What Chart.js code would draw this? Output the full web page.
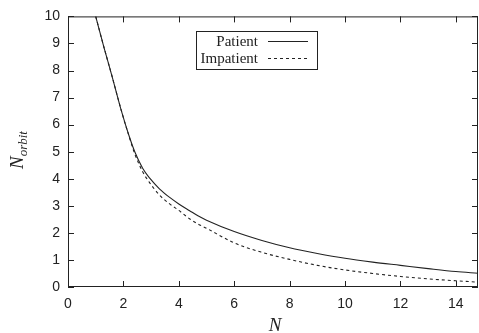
<!DOCTYPE html>
<html>
<head>
<meta charset="utf-8">
<script src="https://cdn.jsdelivr.net/npm/chart.js@4.4.2/dist/chart.umd.min.js"></script>
<style>
  html, body { margin: 0; padding: 0; background: #fff; }
  #wrap { width: 479px; height: 333px; }
</style>
</head>
<body>
<div id="wrap"><canvas id="orbitChart" width="479" height="333"></canvas></div>
<script>
// values
const nValues = [1, 1.3, 1.6, 1.93, 2.2, 2.41, 2.7, 2.95, 3.3, 3.67, 4, 4.39, 4.69, 5, 6, 7, 8, 9, 10, 11, 12, 13, 14, 14.8];
const patientValues = [10, 8.85, 7.75, 6.5, 5.6, 5.0, 4.38, 4.02, 3.63, 3.31, 3.07, 2.82, 2.63, 2.47, 2.05, 1.72, 1.45, 1.24, 1.06, 0.92, 0.80, 0.68, 0.57, 0.51];
const impatientValues = [10, 8.85, 7.75, 6.5, 5.58, 4.92, 4.25, 3.85, 3.4, 3.07, 2.83, 2.52, 2.33, 2.17, 1.63, 1.28, 1.02, 0.80, 0.63, 0.50, 0.39, 0.30, 0.23, 0.18];
const seriesNames = ["Patient", "Impatient"];
const xTicks = [0, 2, 4, 6, 8, 10, 12, 14];
const yTicks = [0, 1, 2, 3, 4, 5, 6, 7, 8, 9, 10];

const ink = "#222";

function toPoints(ys) {
    return nValues.map((x, i) => ({ x: x, y: ys[i] }));
}

// frame, inward ticks on all sides, axis titles and the boxed legend
const framePlugin = {
    id: "frame",
    afterDatasetsDraw(chart) {
        const { ctx, chartArea: a, scales } = chart;
        ctx.save();
        ctx.strokeStyle = ink;
        ctx.lineWidth = 1;
        ctx.strokeRect(a.left + 0.5, a.top + 0.5, a.right - a.left - 1, a.bottom - a.top - 1);

        const tick = 6;
        ctx.beginPath();
        xTicks.forEach(v => {
            const px = Math.round(scales.x.getPixelForValue(v)) + 0.5;
            ctx.moveTo(px, a.bottom); ctx.lineTo(px, a.bottom - tick);
            ctx.moveTo(px, a.top); ctx.lineTo(px, a.top + tick);
        });
        yTicks.forEach(v => {
            const py = Math.round(scales.y.getPixelForValue(v)) + 0.5;
            ctx.moveTo(a.left, py); ctx.lineTo(a.left + tick, py);
            ctx.moveTo(a.right, py); ctx.lineTo(a.right - tick, py);
        });
        ctx.stroke();

        // legend box
        const box = { x: 196.5, y: 31.5, w: 121, h: 38 };
        ctx.strokeRect(box.x, box.y, box.w, box.h);
        ctx.font = "15px 'Liberation Serif', serif";
        ctx.fillStyle = ink;
        ctx.textAlign = "right";
        ctx.textBaseline = "alphabetic";
        const rows = [46, 63];
        seriesNames.forEach((name, i) => {
            ctx.fillText(name, 258, rows[i]);
            ctx.beginPath();
            ctx.setLineDash(i === 0 ? [] : [3, 3]);
            ctx.moveTo(268, rows[i] - 4.5);
            ctx.lineTo(308, rows[i] - 4.5);
            ctx.stroke();
        });
        ctx.setLineDash([]);

        // y title: N with subscript orbit
        ctx.save();
        ctx.translate(23, 169);
        ctx.rotate(-Math.PI / 2);
        ctx.textAlign = "left";
        ctx.font = "italic 19px 'Liberation Serif', serif";
        ctx.fillText("N", 0, 0);
        const nw = ctx.measureText("N").width;
        ctx.font = "italic 13px 'Liberation Serif', serif";
        ctx.fillText("orbit", nw, 4);
        ctx.restore();

        // x title
        ctx.textAlign = "center";
        ctx.font = "italic 19px 'Liberation Serif', serif";
        ctx.fillText("N", (a.left + a.right) / 2 + 2, 331);
        ctx.restore();
    }
};

new Chart(document.getElementById("orbitChart"), {
    type: "line",
    data: {
        datasets: [
            {
                label: seriesNames[0],
                data: toPoints(patientValues),
                borderColor: ink,
                borderWidth: 1.1,
                pointRadius: 0,
                cubicInterpolationMode: "monotone",
                fill: false
            },
            {
                label: seriesNames[1],
                data: toPoints(impatientValues),
                borderColor: ink,
                borderWidth: 1.1,
                borderDash: [3, 3],
                pointRadius: 0,
                cubicInterpolationMode: "monotone",
                fill: false
            }
        ]
    },
    options: {
        responsive: false,
        animation: false,
        layout: { padding: { top: 13, right: 1, left: 0, bottom: 0 } },
        scales: {
            x: {
                type: "linear",
                min: 0,
                max: 14.8,
                afterFit: s => { s.height = 46; },
                ticks: {
                    stepSize: 2,
                    includeBounds: false,
                    maxRotation: 0,
                    padding: 9,
                    color: ink,
                    font: { family: "'Liberation Sans', Arial, sans-serif", size: 14 }
                },
                grid: { display: false, drawTicks: false },
                border: { display: false }
            },
            y: {
                min: 0,
                max: 10,
                afterFit: s => { s.width = 68; },
                ticks: {
                    stepSize: 1,
                    padding: 8,
                    color: ink,
                    font: { family: "'Liberation Sans', Arial, sans-serif", size: 14 }
                },
                grid: { display: false, drawTicks: false },
                border: { display: false }
            }
        },
        plugins: {
            legend: { display: false },
            tooltip: { enabled: false }
        }
    },
    plugins: [framePlugin]
});
</script>
</body>
</html>
